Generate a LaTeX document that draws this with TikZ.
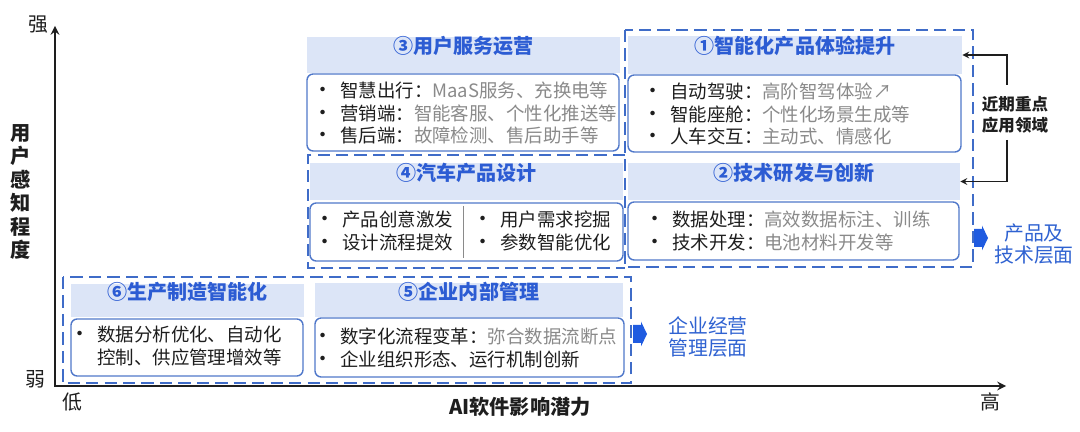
\documentclass[tikz,border=0pt]{standalone}
\usepackage{fontspec}
\newfontfamily\cjk{Noto Sans CJK SC}
\usetikzlibrary{fit}
\definecolor{hdrfill}{HTML}{DCE5F7}
\definecolor{titleblue}{HTML}{2C5CD3}
\definecolor{cardline}{HTML}{5078CA}
\definecolor{zoneblue}{HTML}{3F6CC8}
\definecolor{txtgray}{HTML}{8A8A8A}
\definecolor{txtblack}{HTML}{1E1E1E}
\definecolor{arrowblue}{HTML}{1F5BE0}
\definecolor{sideblue}{HTML}{2F62D1}
\tikzset{>=stealth,
  hdr/.style={fill=hdrfill, inner sep=0pt, text=titleblue, font=\cjk\bfseries\fontsize{11.4}{13}\selectfont},
  card/.style={draw=cardline, line width=0.8pt, rounded corners=3.5pt, fill=white, inner sep=0pt},
  zone/.style={draw=zoneblue, line width=1.2pt, dash pattern=on 7pt off 3.5pt},
  items/.style={anchor=west, inner sep=0pt, align=left, text=txtblack, font=\cjk\fontsize{10.5}{12.8}\selectfont},
  axlbl/.style={inner sep=0pt, text=txtblack, font=\cjk\fontsize{11.3}{13.3}\selectfont},
  sidetxt/.style={inner sep=0pt, align=center, text=sideblue, font=\cjk\fontsize{11.3}{12.6}\selectfont},
  blockarrow/.pic={\fill[arrowblue] (-7,-9) -- (1,-9) -- (1,-12.5) -- (7,0) -- (1,12.5) -- (1,9) -- (-7,9) -- cycle;},
  bracket/.style={draw=txtblack, line width=0.75pt}
}
\newcommand\dotitem{\makebox[8pt][c]{\fontsize{12}{12}\selectfont•}\hspace{5.6pt}}
\newcommand\gry[1]{\textcolor{txtgray}{#1}}

\begin{document}
\begin{tikzpicture}[x=0.02cm, y=-0.02cm]
    \useasboundingbox (0,0) rectangle (1080,432);
    % axes
    \coordinate (O) at (55,386);
    \coordinate (Ytop) at (55,26);
    \coordinate (Xend) at (1006,386);
    \draw[<->, line width=1.2pt, txtblack] (Ytop) -- (O) -- (Xend);
    \node[axlbl] (strong) at (38,25) {强};
    \node[axlbl] (weak) at (35,379) {弱};
    \node[axlbl] (low) at (72,402) {低};
    \node[axlbl] (high) at (990,402) {高};
    \node[axlbl, font=\cjk\bfseries\fontsize{11.5}{13}\selectfont] (xname) at (520,407) {AI软件影响潜力};
    \node[axlbl, align=center, font=\cjk\bfseries\fontsize{11.5}{13.3}\selectfont] (yname) at (21,192)
        {用\\户\\感\\知\\程\\度};
    % dashed zones
    \draw[zone] (625,30) rectangle (973,267);
    \draw[zone] (625,155) -- (308,155) -- (308,268) -- (625,268);
    \draw[zone] (63,277) rectangle (631,383);
    % headers
    \node[hdr, fit={(628,36) (962,74)}] (h1) {①智能化产品体验提升};
    \node[hdr, fit={(628,163) (960,200)}] (h2) {②技术研发与创新};
    \node[hdr, fit={(307,37) (620,73)}] (h3) {③用户服务运营};
    \node[hdr, fit={(310,163) (623,200)}] (h4) {④汽车产品设计};
    \node[hdr, fit={(315,283) (623,317)}] (h5) {⑤企业内部管理};
    \node[hdr, fit={(71,284) (304,317)}] (h6) {⑥生产制造智能化};
    % cards
    \node[card, fit={(628,75) (961,152)}] (c1) {};
    \node[card, fit={(628,202) (959,260)}] (c2) {};
    \node[card, fit={(307,74) (619,151)}] (c3) {};
    \node[card, fit={(310,203) (623,261)}] (c4) {};
    \node[card, fit={(315,318) (624,377)}] (c5) {};
    \node[card, fit={(71,319) (303,376)}] (c6) {};
    \draw[txtgray, line width=0.5pt] (463,206) -- (463,258);
    % card texts
    \node[items] (t1) at (646,114) {\dotitem 自动驾驶：\gry{高阶智驾体验↗}\\
        \dotitem 智能座舱：\gry{个性化场景生成等}\\
        \dotitem 人车交互：\gry{主动式、情感化}};
    \node[items] (t2) at (648,231) {\dotitem 数据处理：\gry{高效数据标注、训练}\\
        \dotitem 技术开发：\gry{电池材料开发等}};
    \node[items] (t3) at (316,113) {\dotitem 智慧出行：\gry{MaaS服务、充换电等}\\
        \dotitem 营销端：\gry{智能客服、个性化推送等}\\
        \dotitem 售后端：\gry{故障检测、售后助手等}};
    \node[items] (t4a) at (318,231) {\dotitem 产品创意激发\\ \dotitem 设计流程提效};
    \node[items] (t4b) at (476,231) {\dotitem 用户需求挖掘\\ \dotitem 参数智能优化};
    \node[items] (t5) at (316,348) {\dotitem 数字化流程变革：\gry{弥合数据流断点}\\
        \dotitem 企业组织形态、运行机制创新};
    \node[items] (t6) at (73,346) {\dotitem 数据分析优化、自动化\\
        \phantom{\dotitem}控制、供应管理增效等};
    % near-term bracket
    \node[axlbl, align=center, font=\cjk\bfseries\fontsize{9.4}{11.9}\selectfont] (focus) at (1015,115)
        {近期重点\\应用领域};
    \coordinate (k1) at (1007,85);
    \coordinate (k2) at (1007,140);
    \draw[bracket, ->] (k1) |- (h1.east);
    \draw[bracket, ->] (k2) |- (h2.east);
    % side arrows
    \pic (a1) at (981,238) {blockarrow};
    \node[sidetxt] (s1) at (1034,244) {产品及\\技术层面};
    \pic (a2) at (640,334) {blockarrow};
    \node[sidetxt] (s2) at (708,337) {企业经营\\管理层面};
\end{tikzpicture}
\end{document}
